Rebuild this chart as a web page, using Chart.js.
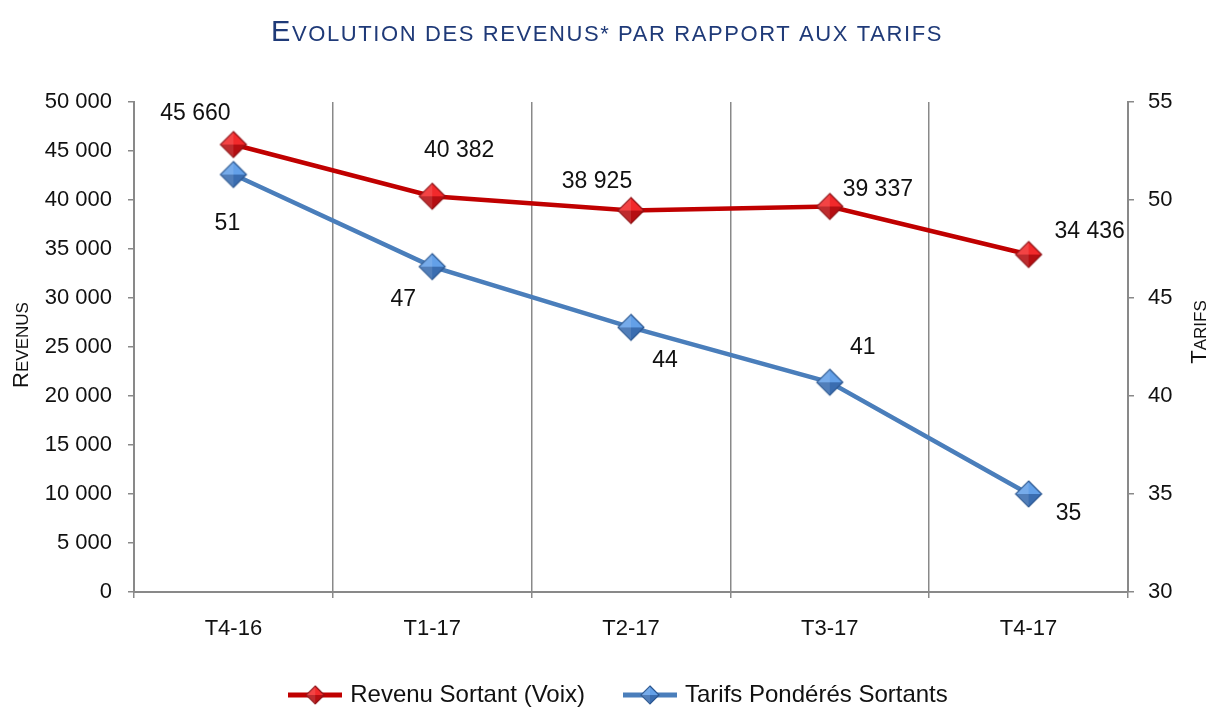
<!DOCTYPE html>
<html><head><meta charset="utf-8">
<script src="https://cdn.jsdelivr.net/npm/chart.js@4/dist/chart.umd.min.js"></script>
<style>html,body{margin:0;padding:0;background:#fff}#wrap{width:1216px;height:711px}</style>
</head><body><div id="wrap"><canvas id="c" width="1216" height="711"></canvas></div>
<script>
// ---- data ----
const categories = ['T4-16', 'T1-17', 'T2-17', 'T3-17', 'T4-17'];
const revenus = [45660, 40382, 38925, 39337, 34436];
const tarifs = [51.3, 46.6, 43.5, 40.7, 35.0];
const tarifsLabels = ['51', '47', '44', '41', '35'];
const seriesNames = ['Revenu Sortant (Voix)', 'Tarifs Pondérés Sortants'];
const titleText = 'Evolution des revenus* par rapport aux tarifs';
const leftAxisTitle = 'Revenus';
const rightAxisTitle = 'Tarifs';

// ---- style ----
const FONT = "'Liberation Sans', Arial, sans-serif";
const RED_LINE = '#C00000', RED_LIGHT = '#F2292B', RED_DARK = '#B50E12', RED_EDGE = '#8E1014';
const BLUE_LINE = '#4A7EBB', BLUE_LIGHT = '#63A0E8', BLUE_DARK = '#3A6DB0', BLUE_EDGE = '#2A5690';
const AXIS = '#898989';
const TITLE_COLOR = '#1F3A78';
// label offsets relative to the point (pixels)
const revOffsets = [[-38, -31], [27, -46], [-34, -29], [48, -17], [61, -23]];
const tarOffsets = [[-6, 49], [-29, 33], [34, 33], [33, -35], [40, 20]];

function fmt(v) { return String(Math.round(v)).replace(/\B(?=(\d{3})+(?!\d))/g, ' '); }

function drawDiamond(x, cx, cy, r, light, dark, edge) {
  const g = x.createLinearGradient(cx, cy - r, cx, cy + r);
  g.addColorStop(0, light); g.addColorStop(0.5, light); g.addColorStop(0.5, dark); g.addColorStop(1, dark);
  x.fillStyle = g; x.strokeStyle = edge; x.lineWidth = 1.2;
  x.beginPath(); x.moveTo(cx, cy - r); x.lineTo(cx + r, cy); x.lineTo(cx, cy + r); x.lineTo(cx - r, cy); x.closePath();
  x.fill(); x.stroke();
  x.fillStyle = 'rgba(255,255,255,0.12)';
  x.beginPath(); x.moveTo(cx, cy - r); x.lineTo(cx, cy + r); x.lineTo(cx - r, cy); x.closePath(); x.fill();
}

function pointIcon(light, dark, edge) {
  const c = document.createElement('canvas');
  c.width = 30; c.height = 30;
  drawDiamond(c.getContext('2d'), 15, 15, 13, light, dark, edge);
  return c;
}

function legendIcon(line, light, dark, edge) {
  const c = document.createElement('canvas');
  c.width = 54; c.height = 22;
  const x = c.getContext('2d');
  x.strokeStyle = line; x.lineWidth = 5;
  x.beginPath(); x.moveTo(0, 11); x.lineTo(54, 11); x.stroke();
  drawDiamond(x, 27, 11, 9, light, dark, edge);
  return c;
}

function drawSmallCaps(ctx, text, x, y, bigSize, smallSize, align, spacing) {
  const parts = [];
  for (const ch of text) {
    const big = ch !== ch.toLowerCase();
    const last = parts[parts.length - 1];
    if (last && last.big === big) last.t += ch; else parts.push({ big, t: ch });
  }
  ctx.save();
  ctx.letterSpacing = spacing + 'px';
  let total = 0;
  parts.forEach(p => {
    ctx.font = (p.big ? bigSize : smallSize) + 'px ' + FONT;
    p.w = ctx.measureText(p.t.toUpperCase()).width;
    total += p.w;
  });
  let cx = align === 'center' ? x - total / 2 : x;
  ctx.textBaseline = 'alphabetic';
  ctx.textAlign = 'left';
  parts.forEach(p => {
    ctx.font = (p.big ? bigSize : smallSize) + 'px ' + FONT;
    ctx.fillText(p.t.toUpperCase(), cx, y);
    cx += p.w;
  });
  ctx.restore();
}

const decor = {
  id: 'decor',
  afterDraw(chart) {
    const ctx = chart.ctx;
    ctx.fillStyle = TITLE_COLOR;
    drawSmallCaps(ctx, titleText, 607, 41, 29, 22, 'center', 1.6);
    ctx.fillStyle = '#111';
    ctx.save(); ctx.translate(28, 345); ctx.rotate(-Math.PI / 2);
    drawSmallCaps(ctx, leftAxisTitle, 0, 0, 22, 17, 'center', 0);
    ctx.restore();
    ctx.save(); ctx.translate(1206, 332); ctx.rotate(-Math.PI / 2);
    drawSmallCaps(ctx, rightAxisTitle, 0, 0, 22, 17, 'center', 0);
    ctx.restore();
    ctx.save();
    ctx.font = '23px ' + FONT;
    ctx.fillStyle = '#111';
    ctx.textAlign = 'center'; ctx.textBaseline = 'middle';
    chart.getDatasetMeta(0).data.forEach((pt, i) => {
      ctx.fillText(fmt(revenus[i]), pt.x + revOffsets[i][0], pt.y + revOffsets[i][1]);
    });
    chart.getDatasetMeta(1).data.forEach((pt, i) => {
      ctx.fillText(tarifsLabels[i], pt.x + tarOffsets[i][0], pt.y + tarOffsets[i][1]);
    });
    ctx.restore();
  }
};

const icons = [legendIcon(RED_LINE, RED_LIGHT, RED_DARK, RED_EDGE), legendIcon(BLUE_LINE, BLUE_LIGHT, BLUE_DARK, BLUE_EDGE)];
const pts = [pointIcon(RED_LIGHT, RED_DARK, RED_EDGE), pointIcon(BLUE_LIGHT, BLUE_DARK, BLUE_EDGE)];

new Chart(document.getElementById('c'), {
  type: 'line',
  data: {
    labels: categories,
    datasets: [
      { label: seriesNames[0], data: revenus, yAxisID: 'y', borderColor: RED_LINE, borderWidth: 4.5,
        pointStyle: pts[0], pointRadius: 13, tension: 0, fill: false },
      { label: seriesNames[1], data: tarifs, yAxisID: 'y1', borderColor: BLUE_LINE, borderWidth: 4.5,
        pointStyle: pts[1], pointRadius: 13, tension: 0, fill: false }
    ]
  },
  options: {
    responsive: false, animation: false, devicePixelRatio: 1,
    layout: { padding: { top: 102, left: 24, right: 0, bottom: -6 } },
    plugins: {
      title: { display: false }, tooltip: { enabled: false },
      legend: {
        position: 'bottom',
        labels: {
          usePointStyle: true, pointStyleWidth: 46, padding: 42,
          font: { family: FONT, size: 24 }, color: '#111',
          generateLabels: (chart) => chart.data.datasets.map((d, i) => ({
            text: d.label, pointStyle: icons[i], datasetIndex: i, hidden: false,
            fillStyle: 'transparent', strokeStyle: 'transparent', lineWidth: 0, fontColor: '#111'
          }))
        }
      }
    },
    scales: {
      x: {
        offset: true,
        grid: { display: true, offset: true, drawOnChartArea: true, color: AXIS, lineWidth: 1.5, tickLength: 6 },
        border: { display: true, color: AXIS, width: 2 },
        ticks: { font: { family: FONT, size: 22 }, color: '#111', padding: 18 },
        afterFit: (s) => { s.height = 49; }
      },
      y: {
        position: 'left', min: 0, max: 50000,
        ticks: { stepSize: 5000, callback: (v) => fmt(v), font: { family: FONT, size: 22 }, color: '#111', padding: 16 },
        grid: { drawOnChartArea: false, drawTicks: true, tickLength: 6, color: AXIS, lineWidth: 1.5 },
        border: { display: true, color: AXIS, width: 2 },
        afterFit: (s) => { s.width = 110; }
      },
      y1: {
        position: 'right', min: 30, max: 55,
        ticks: { stepSize: 5, font: { family: FONT, size: 22 }, color: '#111', padding: 14 },
        grid: { drawOnChartArea: false, drawTicks: true, tickLength: 6, color: AXIS, lineWidth: 1.5 },
        border: { display: true, color: AXIS, width: 2 },
        afterFit: (s) => { s.width = 88; }
      }
    }
  },
  plugins: [decor]
});
</script>
</body></html>
